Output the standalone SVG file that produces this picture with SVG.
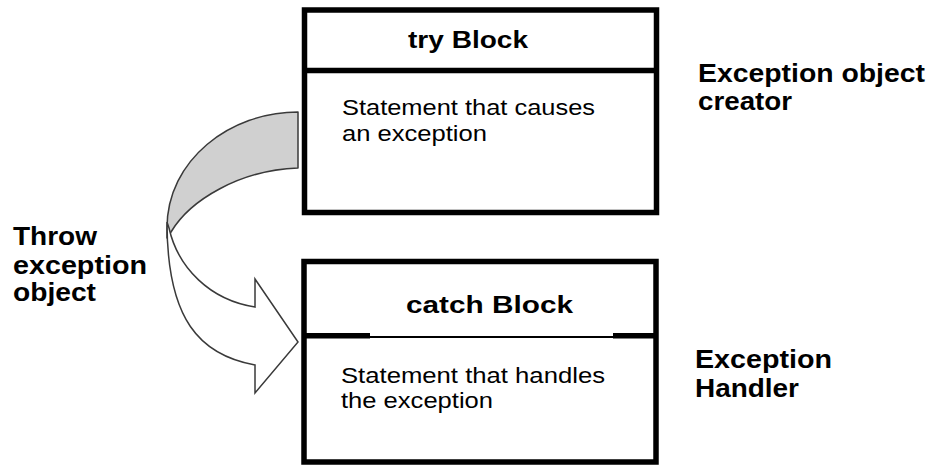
<svg xmlns="http://www.w3.org/2000/svg" width="930" height="466" viewBox="0 0 930 466">
  <style>
    .box { fill: #ffffff; stroke: #000000; stroke-width: 5.5; }
    .rule { stroke: #000000; stroke-width: 5.5; }
    .thin { stroke: #000000; stroke-width: 2; }
    .title { font-family: "Liberation Sans", Arial, sans-serif; font-weight: bold; font-size: 24px; fill: #000000; }
    .body { font-family: "Liberation Sans", Arial, sans-serif; font-size: 22px; fill: #000000; }
    .label { font-family: "Liberation Sans", Arial, sans-serif; font-weight: bold; font-size: 25px; fill: #000000; }
    .band-back { fill: #d0d0d0; stroke: #3a3a3a; stroke-width: 1.5; stroke-linejoin: round; }
    .band-front { fill: #ffffff; stroke: #3a3a3a; stroke-width: 1.5; stroke-linejoin: miter; }
  </style>

  <rect width="930" height="466" fill="#ffffff"/>

  <!-- curved throw arrow from the try block down to the catch block -->
  <g id="connectors">
    <path class="band-back" d="M298,112 C230,112 167,160 167,228 L167,238 L171,232 C190,200 240,170 298,168 Z"/>
    <path class="band-front" d="M167,222 C167,320 200,355 255,365 L255,393 L298,342 L255,279 L255,307 C210,300 178,268 169,228 Z"/>
  </g>

  <!-- try block -->
  <g id="try-block">
    <rect class="box" x="304.5" y="10" width="352" height="202.5"/>
    <line class="rule" x1="304.5" y1="70.5" x2="656.5" y2="70.5"/>
    <text class="title" x="408" y="48" textLength="120" lengthAdjust="spacingAndGlyphs">try Block</text>
    <text class="body" x="342" y="115" textLength="253" lengthAdjust="spacingAndGlyphs">Statement that causes</text>
    <text class="body" x="342" y="140.5" textLength="145" lengthAdjust="spacingAndGlyphs">an exception</text>
  </g>

  <!-- catch block -->
  <g id="catch-block">
    <rect class="box" x="304" y="261.5" width="352" height="200.5"/>
    <line class="rule" x1="304" y1="335.8" x2="370" y2="335.8"/>
    <line class="thin" x1="370" y1="337" x2="613" y2="337"/>
    <line class="rule" x1="613" y1="335.8" x2="656" y2="335.8"/>
    <text class="title" x="406" y="312.5" textLength="167" lengthAdjust="spacingAndGlyphs">catch Block</text>
    <text class="body" x="341" y="383" textLength="264" lengthAdjust="spacingAndGlyphs">Statement that handles</text>
    <text class="body" x="341" y="408" textLength="152" lengthAdjust="spacingAndGlyphs">the exception</text>
  </g>

  <!-- side labels -->
  <g id="label-throw">
    <text class="label" x="13" y="245" textLength="84" lengthAdjust="spacingAndGlyphs">Throw</text>
    <text class="label" x="13" y="273.5" textLength="134" lengthAdjust="spacingAndGlyphs">exception</text>
    <text class="label" x="13" y="301" textLength="83" lengthAdjust="spacingAndGlyphs">object</text>
  </g>

  <g id="label-creator">
    <text class="label" x="698" y="81.5" textLength="227" lengthAdjust="spacingAndGlyphs">Exception object</text>
    <text class="label" x="698" y="109.5" textLength="94" lengthAdjust="spacingAndGlyphs">creator</text>
  </g>

  <g id="label-handler">
    <text class="label" x="695" y="368" textLength="137" lengthAdjust="spacingAndGlyphs">Exception</text>
    <text class="label" x="695" y="396.5" textLength="104" lengthAdjust="spacingAndGlyphs">Handler</text>
  </g>
</svg>
